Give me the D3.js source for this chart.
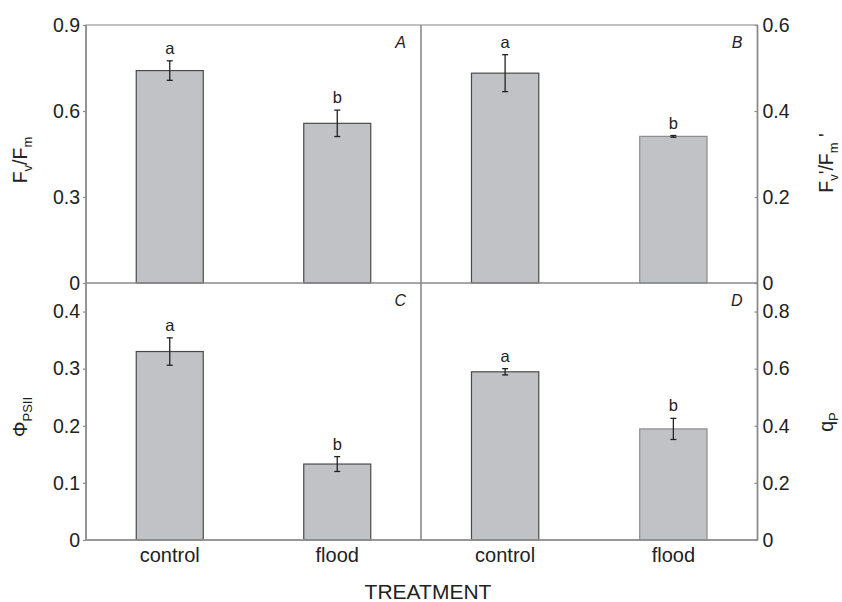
<!DOCTYPE html>
<html>
<head>
<meta charset="utf-8">
<script src="https://cdn.jsdelivr.net/npm/d3@7"></script>
<style>
  html, body { margin: 0; padding: 0; background: #fff; }
  svg { display: block; font-family: "Liberation Sans", Arial, Helvetica, sans-serif; }
</style>
</head>
<body>
<svg id="chart" width="842" height="602"></svg>
<script>
// Treatment groups
const categories = ["control", "flood"];

// Panel A: maximum quantum efficiency of PSII (Fv/Fm)
const fvfmMean = [0.741, 0.557];
const fvfmErr = [0.034, 0.046];
const fvfmSig = ["a", "b"];
const fvfmTicks = [0, 0.3, 0.6, 0.9];

// Panel B: efficiency of open PSII centres (Fv'/Fm')
const fvfmPrimeMean = [0.488, 0.341];
const fvfmPrimeErr = [0.043, 0.002];
const fvfmPrimeSig = ["a", "b"];
const fvfmPrimeTicks = [0, 0.2, 0.4, 0.6];

// Panel C: quantum yield of PSII electron transport (ΦPSII)
const phiMean = [0.330, 0.133];
const phiErr = [0.024, 0.013];
const phiSig = ["a", "b"];
const phiTicks = [0, 0.1, 0.2, 0.3, 0.4];

// Panel D: photochemical quenching (qP)
const qpMean = [0.589, 0.389];
const qpErr = [0.011, 0.037];
const qpSig = ["a", "b"];
const qpTicks = [0, 0.2, 0.4, 0.6, 0.8];

const panelLetters = ["A", "B", "C", "D"];
const xTitle = "TREATMENT";

// ---- layout ----
const svg = d3.select("#chart");
const X0 = 86, XM = 421, X1 = 757.5;
const Y0 = 25, YM = 283, Y1 = 540;
const frameColor = "#8a8a8a";
const textColor = "#222";
const barFill = "#c1c2c6";

const panels = [
  { mean: fvfmMean, err: fvfmErr, sig: fvfmSig, ticks: fvfmTicks, domain: [0, 0.9],
    x: [X0, XM], y: [YM, Y0], side: "left", letter: panelLetters[0],
    strokes: ["#4a4a4a", "#4a4a4a"] },
  { mean: fvfmPrimeMean, err: fvfmPrimeErr, sig: fvfmPrimeSig, ticks: fvfmPrimeTicks, domain: [0, 0.6],
    x: [XM, X1], y: [YM, Y0], side: "right", letter: panelLetters[1],
    strokes: ["#4a4a4a", "#8c8c8c"] },
  { mean: phiMean, err: phiErr, sig: phiSig, ticks: phiTicks, domain: [0, 0.45],
    x: [X0, XM], y: [Y1, YM], side: "left", letter: panelLetters[2],
    strokes: ["#4a4a4a", "#4a4a4a"] },
  { mean: qpMean, err: qpErr, sig: qpSig, ticks: qpTicks, domain: [0, 0.9],
    x: [XM, X1], y: [Y1, YM], side: "right", letter: panelLetters[3],
    strokes: ["#4a4a4a", "#8c8c8c"] }
];

const fmt = d => d === 0 ? "0" : d3.format(".1f")(d);

panels.forEach(p => {
  const x = d3.scaleBand().domain(categories).range(p.x).paddingInner(0.6).paddingOuter(0.3);
  const y = d3.scaleLinear().domain(p.domain).range(p.y);
  const g = svg.append("g");

  // bars
  g.selectAll("rect.bar").data(categories).join("rect")
    .attr("class", "bar")
    .attr("x", d => x(d))
    .attr("width", x.bandwidth())
    .attr("y", (d, i) => y(p.mean[i]))
    .attr("height", (d, i) => y(0) - y(p.mean[i]))
    .attr("fill", barFill)
    .attr("stroke", (d, i) => p.strokes[i])
    .attr("stroke-width", 1.2);

  // error bars
  const eb = g.selectAll("g.err").data(categories).join("g").attr("class", "err")
    .attr("stroke", "#222").attr("stroke-width", 1.3);
  eb.append("line")
    .attr("x1", d => x(d) + x.bandwidth() / 2).attr("x2", d => x(d) + x.bandwidth() / 2)
    .attr("y1", (d, i) => y(p.mean[i] + p.err[i])).attr("y2", (d, i) => y(p.mean[i] - p.err[i]));
  [1, -1].forEach(s => {
    eb.append("line")
      .attr("x1", d => x(d) + x.bandwidth() / 2 - 3).attr("x2", d => x(d) + x.bandwidth() / 2 + 3)
      .attr("y1", (d, i) => y(p.mean[i] + s * p.err[i])).attr("y2", (d, i) => y(p.mean[i] + s * p.err[i]));
  });

  // significance letters
  g.selectAll("text.sig").data(categories).join("text")
    .attr("class", "sig")
    .attr("x", d => x(d) + x.bandwidth() / 2)
    .attr("y", (d, i) => y(p.mean[i] + p.err[i]) - 7)
    .attr("text-anchor", "middle")
    .attr("font-size", 16.5)
    .attr("fill", textColor)
    .text((d, i) => p.sig[i]);

  // panel letter
  g.append("text")
    .attr("x", p.x[1] - 15)
    .attr("y", p.y[1] + 23)
    .attr("text-anchor", "end")
    .attr("font-style", "italic")
    .attr("font-size", 16)
    .attr("fill", textColor)
    .text(p.letter);

  // value axis
  const axis = p.side === "left"
    ? d3.axisLeft(y).tickValues(p.ticks).tickFormat(fmt).tickSize(3).tickSizeOuter(0).tickPadding(3)
    : d3.axisRight(y).tickValues(p.ticks).tickFormat(fmt).tickSize(-3).tickSizeOuter(0).tickPadding(5);
  const ag = svg.append("g")
    .attr("transform", `translate(${p.side === "left" ? X0 : X1},0)`)
    .call(axis);
  ag.select(".domain").remove();
  ag.selectAll(".tick line").attr("stroke", frameColor).attr("stroke-width", 1.2);
  ag.selectAll(".tick text")
    .attr("font-size", 19.5)
    .attr("font-family", "Liberation Sans, Arial, sans-serif")
    .attr("fill", textColor);

  // category labels along the bottom row
  if (p.y[0] === Y1) {
    g.selectAll("text.cat").data(categories).join("text")
      .attr("class", "cat")
      .attr("x", d => x(d) + x.bandwidth() / 2)
      .attr("y", 562)
      .attr("text-anchor", "middle")
      .attr("font-size", 20)
      .attr("fill", textColor)
      .text(d => d);
  }
});

// panel frame
const frame = svg.append("g").attr("stroke", frameColor).attr("stroke-width", 1.6).attr("fill", "none");
frame.append("rect").attr("x", X0).attr("y", Y0).attr("width", X1 - X0).attr("height", Y1 - Y0)
  .attr("stroke", "#a0a0a0").attr("stroke-width", 1.3);
frame.append("line").attr("x1", X0).attr("x2", X0).attr("y1", Y0).attr("y2", Y1);
frame.append("line").attr("x1", X1).attr("x2", X1).attr("y1", Y0).attr("y2", Y1);
frame.append("line").attr("x1", X0).attr("x2", X1).attr("y1", Y1).attr("y2", Y1);
frame.append("line").attr("x1", X0).attr("x2", X1).attr("y1", YM).attr("y2", YM);
frame.append("line").attr("x1", XM).attr("x2", XM).attr("y1", Y0).attr("y2", Y1);

// axis titles with subscripts
function rotatedTitle(cx, cy, parts) {
  const t = svg.append("text")
    .attr("transform", `translate(${cx},${cy}) rotate(-90)`)
    .attr("text-anchor", "middle")
    .attr("fill", textColor)
    .attr("font-size", 19.5);
  let shift = 0;
  parts.forEach(([txt, kind]) => {
    const s = t.append("tspan").text(txt);
    const target = kind === "sub" ? 5 : 0;
    s.attr("dy", target - shift);
    shift = target;
    if (kind === "sub") s.attr("font-size", 13);
  });
  return t;
}

rotatedTitle(27, 160, [["F"], ["v", "sub"], ["/F"], ["m", "sub"]]);
rotatedTitle(833, 163, [["F"], ["v", "sub"], ["'/F"], ["m", "sub"], [" '"]]);
rotatedTitle(27, 417, [["Φ"], ["PSII", "sub"]]);
rotatedTitle(833, 422, [["q"], ["P", "sub"]]);

// shared category-axis title
svg.append("text")
  .attr("x", 428).attr("y", 599)
  .attr("text-anchor", "middle")
  .attr("font-size", 21)
  .attr("fill", textColor)
  .text(xTitle);
</script>
</body>
</html>
